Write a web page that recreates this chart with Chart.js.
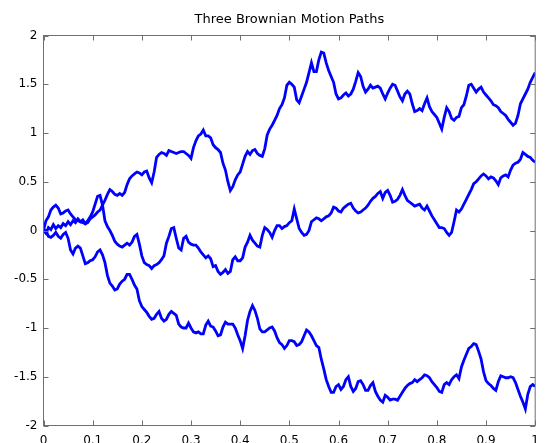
<!DOCTYPE html>
<html>
<head>
<meta charset="utf-8">
<script src="https://cdn.jsdelivr.net/npm/chart.js"></script>
<style>
  html, body { margin: 0; padding: 0; background: #fff; overflow: hidden; }
  canvas { display: block; }
</style>
</head>
<body>
<canvas id="grafico" width="547" height="460" style="width:547px;height:460px"></canvas>
<script>
// tiempo (eje x), un punto cada 0.005
const tiempos = [
  0, 0.005, 0.01, 0.015, 0.02, 0.025, 0.03, 0.035, 0.04, 0.045,
  0.05, 0.055, 0.06, 0.065, 0.07, 0.075, 0.08, 0.085, 0.09, 0.095,
  0.1, 0.105, 0.11, 0.115, 0.12, 0.125, 0.13, 0.135, 0.14, 0.145,
  0.15, 0.155, 0.16, 0.165, 0.17, 0.175, 0.18, 0.185, 0.19, 0.195,
  0.2, 0.205, 0.21, 0.215, 0.22, 0.225, 0.23, 0.235, 0.24, 0.245,
  0.25, 0.255, 0.26, 0.265, 0.27, 0.275, 0.28, 0.285, 0.29, 0.295,
  0.3, 0.305, 0.31, 0.315, 0.32, 0.325, 0.33, 0.335, 0.34, 0.345,
  0.35, 0.355, 0.36, 0.365, 0.37, 0.375, 0.38, 0.385, 0.39, 0.395,
  0.4, 0.405, 0.41, 0.415, 0.42, 0.425, 0.43, 0.435, 0.44, 0.445,
  0.45, 0.455, 0.46, 0.465, 0.47, 0.475, 0.48, 0.485, 0.49, 0.495,
  0.5, 0.505, 0.51, 0.515, 0.52, 0.525, 0.53, 0.535, 0.54, 0.545,
  0.55, 0.555, 0.56, 0.565, 0.57, 0.575, 0.58, 0.585, 0.59, 0.595,
  0.6, 0.605, 0.61, 0.615, 0.62, 0.625, 0.63, 0.635, 0.64, 0.645,
  0.65, 0.655, 0.66, 0.665, 0.67, 0.675, 0.68, 0.685, 0.69, 0.695,
  0.7, 0.705, 0.71, 0.715, 0.72, 0.725, 0.73, 0.735, 0.74, 0.745,
  0.75, 0.755, 0.76, 0.765, 0.77, 0.775, 0.78, 0.785, 0.79, 0.795,
  0.8, 0.805, 0.81, 0.815, 0.82, 0.825, 0.83, 0.835, 0.84, 0.845,
  0.85, 0.855, 0.86, 0.865, 0.87, 0.875, 0.88, 0.885, 0.89, 0.895,
  0.9, 0.905, 0.91, 0.915, 0.92, 0.925, 0.93, 0.935, 0.94, 0.945,
  0.95, 0.955, 0.96, 0.965, 0.97, 0.975, 0.98, 0.985, 0.99, 0.995,
  1
]

// camino de arriba (termina en ~1.6)
const caminoA = [
  0.0, 0.1, 0.14, 0.21, 0.24, 0.26, 0.23, 0.17, 0.18, 0.2,
  0.21, 0.17, 0.14, 0.11, 0.1, 0.09, 0.08, 0.07, 0.08, 0.12,
  0.14, 0.16, 0.19, 0.21, 0.26, 0.31, 0.37, 0.42, 0.4, 0.37,
  0.36, 0.38, 0.36, 0.39,
  0.47, 0.53, 0.56, 0.58, 0.6, 0.59, 0.57, 0.6, 0.61, 0.54,
  0.49, 0.6, 0.75, 0.78, 0.8, 0.79, 0.77, 0.82, 0.81, 0.8,
  0.79, 0.8, 0.81, 0.81, 0.79, 0.77, 0.74, 0.85, 0.92, 0.97,
  0.99, 1.03, 0.97,
  0.97, 0.95, 0.88, 0.85, 0.83, 0.8, 0.69, 0.62, 0.5, 0.41,
  0.45, 0.52, 0.57, 0.6, 0.68, 0.76, 0.81, 0.78, 0.82, 0.83,
  0.79, 0.77, 0.76, 0.84, 0.98, 1.04, 1.08, 1.13, 1.18, 1.25,
  1.29, 1.36, 1.49, 1.52,
  1.5, 1.47, 1.34, 1.31, 1.38, 1.45, 1.52, 1.62, 1.72, 1.63,
  1.63, 1.75, 1.83, 1.82, 1.72, 1.64, 1.58, 1.52, 1.4, 1.35,
  1.36, 1.39, 1.41, 1.38, 1.4, 1.45, 1.53, 1.62, 1.58, 1.48,
  1.42, 1.45, 1.49, 1.46,
  1.47, 1.48, 1.46, 1.4, 1.35, 1.41, 1.46, 1.5, 1.49, 1.43,
  1.37, 1.33, 1.4, 1.43, 1.4, 1.3, 1.22, 1.23, 1.25, 1.23,
  1.3, 1.36, 1.27, 1.22, 1.19, 1.16, 1.1, 1.04, 1.16, 1.26,
  1.22, 1.15, 1.13, 1.16,
  1.17, 1.26, 1.29, 1.38, 1.49, 1.5, 1.46, 1.42, 1.45, 1.47,
  1.42, 1.39, 1.36, 1.33, 1.29, 1.28, 1.26, 1.22, 1.2, 1.18,
  1.14, 1.11, 1.08, 1.1, 1.18, 1.3, 1.35, 1.4, 1.45, 1.52,
  1.57, 1.62
]

// camino del medio (termina en ~0.7)
const caminoB = [
  0.0, -0.03, 0.03, 0.01, 0.06, 0.02, 0.05, 0.03, 0.07, 0.05,
  0.09, 0.06, 0.1, 0.08, 0.12, 0.09, 0.11, 0.07, 0.1, 0.14,
  0.19, 0.27, 0.35, 0.36, 0.26, 0.1, 0.04, 0.0, -0.05, -0.11,
  -0.14, -0.16, -0.17, -0.15,
  -0.13, -0.15, -0.12, -0.06, -0.04, -0.14, -0.26, -0.33, -0.35, -0.36,
  -0.39, -0.36, -0.35, -0.33, -0.3, -0.26, -0.13, -0.06, 0.02, 0.03,
  -0.08, -0.18, -0.2, -0.08, -0.06, -0.12, -0.14, -0.15, -0.15, -0.18,
  -0.22, -0.25, -0.28,
  -0.26, -0.29, -0.37, -0.36, -0.42, -0.45, -0.43, -0.4, -0.44, -0.42,
  -0.3, -0.27, -0.31, -0.31, -0.28, -0.17, -0.12, -0.05, -0.1, -0.13,
  -0.16, -0.17, -0.05, 0.03, 0.01, -0.02, -0.07, 0.0, 0.05, 0.05,
  0.02, 0.04, 0.05, 0.08,
  0.1, 0.22, 0.12, 0.02, -0.02, -0.05, -0.04, 0.0, 0.09, 0.11,
  0.13, 0.12, 0.1, 0.12, 0.14, 0.15, 0.18, 0.24, 0.23, 0.2,
  0.19, 0.23, 0.25, 0.27, 0.28, 0.23, 0.2, 0.18, 0.19, 0.21,
  0.23, 0.26, 0.3, 0.33,
  0.35, 0.38, 0.4, 0.33, 0.39, 0.41, 0.36, 0.29, 0.3, 0.32,
  0.36, 0.42, 0.36, 0.31, 0.29, 0.27, 0.25, 0.26, 0.27, 0.23,
  0.21, 0.25, 0.2, 0.15, 0.11, 0.07, 0.03, 0.03, 0.02, -0.02,
  -0.05, -0.02, 0.09, 0.21,
  0.19, 0.22, 0.27, 0.32, 0.37, 0.42, 0.48, 0.5, 0.53, 0.56,
  0.58, 0.56, 0.53, 0.55, 0.54, 0.51, 0.47, 0.54, 0.56, 0.57,
  0.55, 0.62, 0.67, 0.69, 0.7, 0.73, 0.8, 0.78, 0.76, 0.75,
  0.72, 0.7
]

// camino de abajo (termina en ~-1.6)
const caminoC = [
  0.0, 0.0, -0.06, -0.07, -0.05, -0.02, -0.06, -0.08, -0.04, -0.02,
  -0.08, -0.2, -0.24, -0.18, -0.16, -0.18, -0.26, -0.34, -0.33, -0.31,
  -0.3, -0.27, -0.22, -0.2, -0.25, -0.33, -0.46, -0.54, -0.57, -0.61,
  -0.6, -0.55, -0.52, -0.5,
  -0.45, -0.45, -0.5, -0.56, -0.6, -0.72, -0.78, -0.81, -0.84, -0.88,
  -0.91, -0.9, -0.86, -0.83, -0.9, -0.93, -0.91, -0.86, -0.83, -0.85,
  -0.87, -0.96, -0.99, -1.0, -1.0, -0.95, -1.0, -1.04, -1.05, -1.04,
  -1.06, -1.06, -0.97,
  -0.93, -0.98, -0.99, -1.03, -1.08, -1.07, -0.99, -0.94, -0.96, -0.96,
  -0.96, -1.0, -1.07, -1.13, -1.21, -1.08, -0.92, -0.83, -0.77, -0.82,
  -0.9, -1.01, -1.04, -1.04, -1.02, -1.0, -0.99, -1.03, -1.1, -1.15,
  -1.17, -1.21, -1.18, -1.13,
  -1.13, -1.14, -1.18, -1.17, -1.14, -1.08, -1.02, -1.04, -1.08, -1.13,
  -1.18, -1.2, -1.32, -1.42, -1.53, -1.6, -1.66, -1.66, -1.6, -1.58,
  -1.63, -1.6, -1.53, -1.5, -1.6, -1.65, -1.62, -1.55, -1.54, -1.58,
  -1.64, -1.64, -1.59, -1.56,
  -1.65, -1.7, -1.74, -1.76, -1.69, -1.71, -1.74, -1.73, -1.73, -1.74,
  -1.7, -1.66, -1.62, -1.59, -1.57, -1.56, -1.53, -1.55, -1.53, -1.51,
  -1.48, -1.49, -1.51, -1.55, -1.58, -1.61, -1.65, -1.66, -1.58, -1.56,
  -1.58, -1.53, -1.5, -1.48,
  -1.52, -1.4, -1.33, -1.27, -1.21, -1.19, -1.16, -1.17, -1.24, -1.32,
  -1.45, -1.54, -1.57, -1.59, -1.62, -1.64, -1.55, -1.49, -1.5, -1.51,
  -1.51, -1.5, -1.51, -1.56, -1.63, -1.7, -1.76, -1.83, -1.68, -1.6,
  -1.58, -1.6
]

const titulo = 'Three Brownian Motion Paths'
const limitesX = [0, 1]
const limitesY = [-2, 2]

const fuente = 'DejaVu Sans'
const colorEjes = '#707070'

// etiquetas estilo matlab: 0, 0.5, 1 (sin ceros de relleno)
const formatoTick = (v) => String(Number(v.toFixed(2)))

// caja completa con marcas hacia adentro, como en matlab
const cajaEjes = {
    id: 'cajaEjes',
    afterDraw(chart) {
        const ctx = chart.ctx
        const { left, right, top, bottom } = chart.chartArea
        const largo = 5
        ctx.save()
        ctx.strokeStyle = colorEjes
        ctx.lineWidth = 1
        ctx.beginPath()
        chart.scales.x.ticks.forEach((t) => {
            const px = Math.round(chart.scales.x.getPixelForValue(t.value)) + 0.5
            ctx.moveTo(px, bottom); ctx.lineTo(px, bottom - largo)
            ctx.moveTo(px, top); ctx.lineTo(px, top + largo)
        })
        chart.scales.y.ticks.forEach((t) => {
            const py = Math.round(chart.scales.y.getPixelForValue(t.value)) + 0.5
            ctx.moveTo(left, py); ctx.lineTo(left + largo, py)
            ctx.moveTo(right, py); ctx.lineTo(right - largo, py)
        })
        ctx.stroke()
        ctx.strokeRect(left, top, right - left, bottom - top)
        ctx.restore()
    }
}

const datasets = [caminoA, caminoB, caminoC].map((camino) => {
    return {
        data: tiempos.map((t, i) => ({ x: t, y: camino[i] })),
        borderColor: '#0000ff',
        borderWidth: 2.8,
        pointRadius: 0,
        fill: false,
        tension: 0
    }
})

const config = {
    type: 'line',
    data: { datasets },
    options: {
        responsive: false,
        animation: false,
        devicePixelRatio: 1,
        layout: { padding: { left: 0, right: 5.5, top: 0, bottom: 0 } },
        plugins: {
            legend: { display: false },
            tooltip: { enabled: false },
            title: {
                display: true,
                text: titulo,
                fullSize: false,
                color: '#000',
                font: { family: fuente, size: 13, weight: 'normal' },
                padding: { top: 12, bottom: 7.9 }
            }
        },
        scales: {
            x: {
                type: 'linear',
                min: limitesX[0],
                max: limitesX[1],
                grid: { display: false, drawTicks: false },
                border: { display: false },
                ticks: {
                    stepSize: 0.1,
                    padding: 8,
                    color: '#000',
                    autoSkip: false,
                    maxRotation: 0,
                    font: { family: fuente, size: 12 },
                    callback: formatoTick
                },
                afterFit: (s) => { s.height = 34.5 }
            },
            y: {
                type: 'linear',
                min: limitesY[0],
                max: limitesY[1],
                grid: { display: false, drawTicks: false },
                border: { display: false },
                ticks: {
                    stepSize: 0.5,
                    padding: 6,
                    color: '#000',
                    font: { family: fuente, size: 12 },
                    callback: formatoTick
                },
                afterFit: (s) => { s.width = 43.5 }
            }
        }
    },
    plugins: [cajaEjes]
}

const grafico = document.querySelector('#grafico')
new Chart(grafico, config)
</script>
</body>
</html>
